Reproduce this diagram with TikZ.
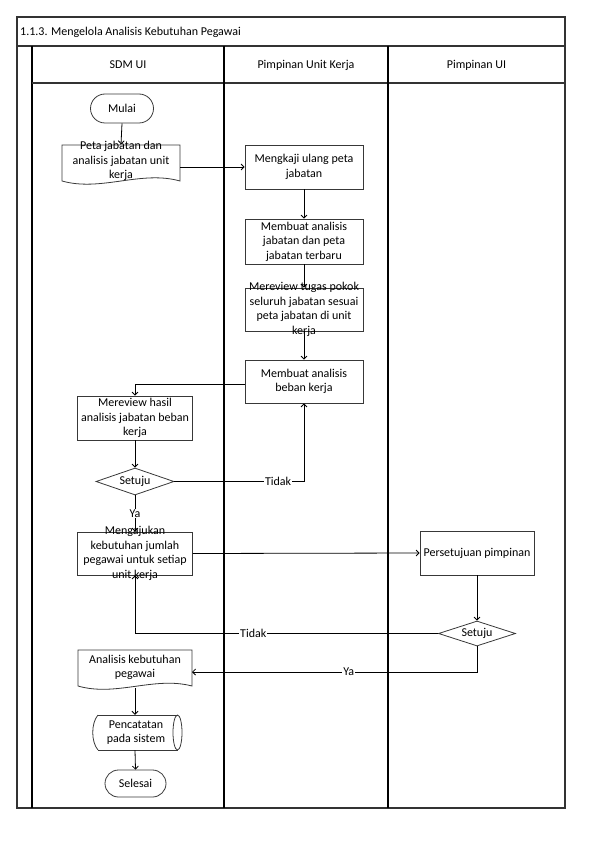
\documentclass[tikz,border=0pt]{standalone}
\usepackage{fontspec}
\setmainfont{Carlito}
\usetikzlibrary{arrows.meta,shapes.geometric,shapes.misc,calc}
\begin{document}
\begin{tikzpicture}[x=1pt,y=-1pt,
  every node/.style={font=\fontsize{12}{14.5}\selectfont, text=black},
  shapeline/.style={draw=black!78, line width=0.8pt},
  boxnode/.style={shapeline, rectangle, inner sep=0pt, minimum width=118pt, minimum height=44pt},
  ghost/.style={rectangle, inner sep=0pt},
  txt/.style={align=center, inner sep=0pt},
  terminal/.style={shapeline, rounded rectangle, inner sep=0pt, minimum width=62pt, minimum height=28pt},
  decision/.style={shapeline, diamond, inner sep=0pt, minimum width=78pt, minimum height=27pt},
  flow/.style={draw=black, line width=0.8pt, -{Straight Barb[length=3pt,width=6pt]}},
  lbl/.style={fill=white, inner sep=1pt},
  frame/.style={draw=black!80, line width=1.1pt},
  lane/.style={draw=black, line width=1.2pt}]
\useasboundingbox (0,0) rectangle (595,842);

% frame and lanes
\draw[frame] (17,17) rectangle (565,808);
\draw[frame] (17,46) -- (565,46);
\draw[lane] (32,46) -- (32,808);
\draw[frame] (32,83) -- (565,83);
\draw[lane] (224,46) -- (224,808);
\draw[lane] (388,46) -- (388,808);

\node[anchor=west, inner sep=0pt] (title) at (20,32) {1.1.3. Mengelola Analisis Kebutuhan Pegawai};
\node (h1) at (128,65) {SDM UI};
\node (h2) at (306,65) {Pimpinan Unit Kerja};
\node (h3) at (476.5,65) {Pimpinan UI};

% nodes
\node[terminal, minimum width=63pt, minimum height=29pt] (mulai) at (122,108.5) {Mulai};

\node[ghost, minimum width=118pt, minimum height=39pt] (peta) at (121,164) {};
\draw[shapeline] (62,145) -- (180,145) -- (180,181) .. controls (141,170) and (101,192) .. (62,181) -- cycle;
\node[txt] (peta-t) at (121,161) {Peta jabatan dan\\analisis jabatan unit\\kerja};

\node[boxnode] (mengkaji) at (304,167) {};
\node[txt] (mengkaji-t) at (304,167) {Mengkaji ulang peta\\jabatan};

\node[boxnode, minimum height=45pt] (mja) at (304,241.5) {};
\node[txt] (mja-t) at (304,241.5) {Membuat analisis\\jabatan dan peta\\jabatan terbaru};

\node[boxnode, minimum height=43pt] (mtugas) at (304,309.5) {};
\node[txt] (mtugas-t) at (304,309.5) {Mereview tugas pokok\\seluruh jabatan sesuai\\peta jabatan di unit\\kerja};

\node[boxnode, minimum height=43pt] (mbeban) at (304,381.5) {};
\node[txt] (mbeban-t) at (304,381.5) {Membuat analisis\\beban kerja};

\node[boxnode, minimum width=115pt] (mhasil) at (135,418) {};
\node[txt] (mhasil-t) at (135,418) {Mereview hasil\\analisis jabatan beban\\kerja};

\node[decision] (s1) at (135,481.5) {};
\node[txt] (s1-t) at (135,481.5) {Setuju};

\node[boxnode, minimum width=115pt, minimum height=43pt] (mengajukan) at (135,553.5) {};
\node[txt] (mengajukan-t) at (135,553.5) {Mengajukan\\kebutuhan jumlah\\pegawai untuk setiap\\unit kerja};

\node[boxnode, minimum width=114pt] (persetujuan) at (477,553) {};
\node[txt] (persetujuan-t) at (477,553) {Persetujuan pimpinan};

\node[decision, minimum width=77pt, minimum height=25pt] (s2) at (477,633.5) {};
\node[txt] (s2-t) at (477,633.5) {Setuju};

\node[ghost, minimum width=114pt, minimum height=38pt] (analisis) at (135,669) {};
\draw[shapeline] (78,650) -- (192,650) -- (192,686) .. controls (154,676) and (116,697) .. (78,686) -- cycle;
\node[txt] (analisis-t) at (135,667.5) {Analisis kebutuhan\\pegawai};

\node[ghost, minimum width=89pt, minimum height=35pt] (pencatatan) at (135,732.5) {};
\draw[shapeline] (98,715) -- (177.5,715);
\draw[shapeline] (98,750) -- (177.5,750);
\draw[shapeline] (98,715) .. controls (91,723) and (91,742) .. (98,750);
\draw[shapeline] (177.5,732.5) ellipse [x radius=4.5pt, y radius=17.5pt];
\node[txt] (pencatatan-t) at (136,732.5) {Pencatatan\\pada sistem};

\node[terminal, minimum width=61pt, minimum height=27pt] (selesai) at (135.5,783.5) {Selesai};

\coordinate (yaturn) at (477,672);
\coordinate (anain) at (192,672);

% connectors
\draw[flow] (mulai.south) -- (peta.north);
\draw[flow] (peta.east |- mengkaji.west) -- (mengkaji.west);
\draw[flow] (mengkaji.south) -- (mja.north);
\draw[flow] (mja.south) -- (mtugas.north);
\draw[flow] (mtugas.south) -- (mbeban.north);
\draw[flow] ($(mbeban.west)+(0,3)$) -| (mhasil.north);
\draw[flow] (mhasil.south) -- (s1.north);
\draw[flow] (s1.east) -- node[lbl, pos=0.8] (tidak1) {Tidak} (s1.east -| mbeban.south) -- (mbeban.south);
\draw[flow] (s1.south) -- node[lbl] (ya1) {Ya} (mengajukan.north);
\draw[flow] (mengajukan.east) -- (persetujuan.west);
\draw[flow] (persetujuan.south) -- (s2.north);
\draw[flow] (s2.west) -- node[lbl, pos=0.61] (tidak2) {Tidak} (s2.west -| mengajukan.south) -- (mengajukan.south);
\draw[flow] (s2.south) -- (yaturn) -- node[lbl, pos=0.45] (ya2) {Ya} (anain);
\draw[flow] (analisis.south) -- (pencatatan.north);
\draw[flow] (pencatatan.south) -- (selesai.north);
\end{tikzpicture}
\end{document}
